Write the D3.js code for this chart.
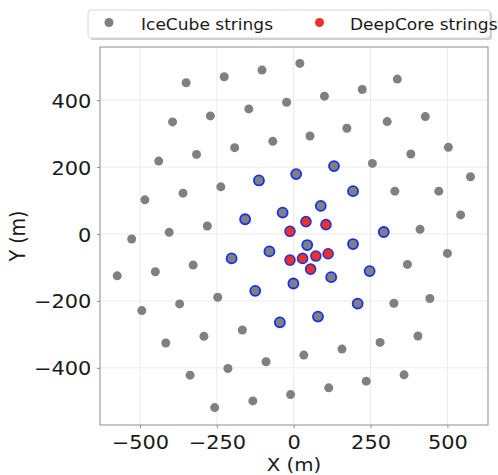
<!DOCTYPE html>
<html>
<head>
<meta charset="utf-8">
<script src="https://cdn.jsdelivr.net/npm/d3@7"></script>
<style>
  body { margin: 0; background: #fff; }
  text { font-family: "DejaVu Sans", sans-serif; fill: #1a1a1a; }
</style>
</head>
<body>
<script>
// IceCube strings (plain grey)
const iceCube = [
  [-350, 452], [-226, 470], [-103, 490], [20, 510], [100, 412], [223, 432], [337, 463],
  [-23, 394], [-146, 374], [-271, 353], [-394, 335], [53, 293], [173, 316], [304, 336],
  [428, 351], [-68, 277], [-192, 258], [-316, 238], [-439, 218], [256, 211], [381, 239],
  [503, 259], [575, 171], [472, 128], [329, 128], [-237, 141], [-360, 122], [-484, 102],
  [-281, 24], [-405, 5], [-527, -15], [411, 14], [543, 57], [500, -58], [370, -91],
  [-327, -93], [-450, -113], [-574, -125], [-247, -189], [-371, -209], [-494, -229],
  [326, -207], [443, -193], [-416, -326], [-292, -306], [-167, -287], [404, -305],
  [281, -324], [157, -344], [33, -362], [-90, -382], [-214, -402], [-337, -422],
  [359, -421], [236, -440], [114, -460], [-10, -480], [-133, -499], [-257, -519]
];
// IceCube strings around DeepCore (blue edge)
const iceCubeInner = [
  [-113, 160], [8, 179], [131, 203], [193, 128], [88, 84], [-36, 64], [-158, 44],
  [293, 6], [44, -33], [193, -30], [-79, -52], [-202, -73], [122, -129], [247, -111],
  [-1, -148], [-125, -170], [208, -208], [79, -247], [-45, -264]
];
// DeepCore strings
const deepCore = [
  [-12, 8], [40, 37], [105, 28], [112, -59], [72, -66], [29, -73], [-12, -78], [55, -105]
];
const xTicks = [-500, -250, 0, 250, 500];
const yTicks = [-400, -200, 0, 200, 400];
const legendLabels = ["IceCube strings", "DeepCore strings"];

const W = 498, H = 475;
const m = { left: 100, right: 488, top: 47, bottom: 425 };
const stretch = "scale(1.1,1)";

const x = d3.scaleLinear().domain([-630, 632]).range([m.left, m.right]);
const y = d3.scaleLinear().domain([-571, 559]).range([m.bottom, m.top]);

const svg = d3.select("body").append("svg")
  .attr("width", W)
  .attr("height", H);

// grid
svg.append("g")
  .selectAll("line.gx")
  .data(xTicks)
  .join("line")
  .attr("x1", d => x(d)).attr("x2", d => x(d))
  .attr("y1", m.top).attr("y2", m.bottom)
  .attr("stroke", "#ebebeb").attr("stroke-width", 1);
svg.append("g")
  .selectAll("line.gy")
  .data(yTicks)
  .join("line")
  .attr("y1", d => y(d)).attr("y2", d => y(d))
  .attr("x1", m.left).attr("x2", m.right)
  .attr("stroke", "#ebebeb").attr("stroke-width", 1);

// axes
const xAxis = svg.append("g")
  .attr("transform", `translate(0,${m.bottom})`)
  .call(d3.axisBottom(x).tickValues(xTicks).tickSize(3).tickSizeOuter(0));
xAxis.selectAll("text")
  .attr("y", 24).attr("dy", null)
  .attr("transform", stretch)
  .style("font-size", "19px");

const yAxis = svg.append("g")
  .attr("transform", `translate(${m.left},0)`)
  .call(d3.axisLeft(y).tickValues(yTicks).tickSize(3).tickSizeOuter(0));
yAxis.selectAll("text")
  .attr("x", -7.9).attr("dy", "0.37em")
  .attr("transform", stretch)
  .style("font-size", "19px");

svg.selectAll(".domain").remove();
svg.selectAll(".tick line").attr("stroke", "#8c8c8c");
svg.selectAll(".tick text").attr("fill", "#1a1a1a").attr("font-family", "DejaVu Sans");

// frame
svg.append("rect")
  .attr("x", m.left).attr("y", m.top)
  .attr("width", m.right - m.left).attr("height", m.bottom - m.top)
  .attr("fill", "none").attr("stroke", "#8c8c8c").attr("stroke-width", 1);

// axis labels
svg.append("text")
  .attr("transform", `translate(294,470.5) ${stretch}`)
  .attr("text-anchor", "middle")
  .style("font-size", "18px")
  .text("X (m)");
svg.append("text")
  .attr("transform", `translate(25,236) ${stretch} rotate(-90)`)
  .attr("text-anchor", "middle")
  .style("font-size", "19px")
  .text("Y (m)");

// points
svg.append("g")
  .selectAll("circle")
  .data(iceCube)
  .join("circle")
  .attr("cx", d => x(d[0])).attr("cy", d => y(d[1]))
  .attr("r", 4.5)
  .attr("fill", "#808080");

svg.append("g")
  .selectAll("circle")
  .data(iceCubeInner)
  .join("circle")
  .attr("cx", d => x(d[0])).attr("cy", d => y(d[1]))
  .attr("r", 5)
  .attr("fill", "#808080")
  .attr("stroke", "#1530f0").attr("stroke-width", 1.8);

svg.append("g")
  .selectAll("circle")
  .data(deepCore)
  .join("circle")
  .attr("cx", d => x(d[0])).attr("cy", d => y(d[1]))
  .attr("r", 5)
  .attr("fill", "#ee3124")
  .attr("stroke", "#2a30e0").attr("stroke-width", 1.6);

// legend
const lg = svg.append("g");
lg.append("rect")
  .attr("x", 90).attr("y", 12).attr("width", 402).attr("height", 28)
  .attr("rx", 3).attr("fill", "#cfcfcf");
lg.append("rect")
  .attr("x", 88).attr("y", 10).attr("width", 402).attr("height", 28)
  .attr("rx", 3).attr("fill", "#fff").attr("stroke", "#d6d6d6");
const legendColors = ["#808080", "#ee3124"];
const legendPos = [[109, 141], [319.5, 350]];
legendLabels.forEach((t, i) => {
  lg.append("circle")
    .attr("cx", legendPos[i][0]).attr("cy", 22.5).attr("r", 4.5)
    .attr("fill", legendColors[i]);
  lg.append("text")
    .attr("transform", `translate(${legendPos[i][1]},30) ${stretch}`)
    .style("font-size", "15.5px")
    .text(t);
});
</script>
</body>
</html>
